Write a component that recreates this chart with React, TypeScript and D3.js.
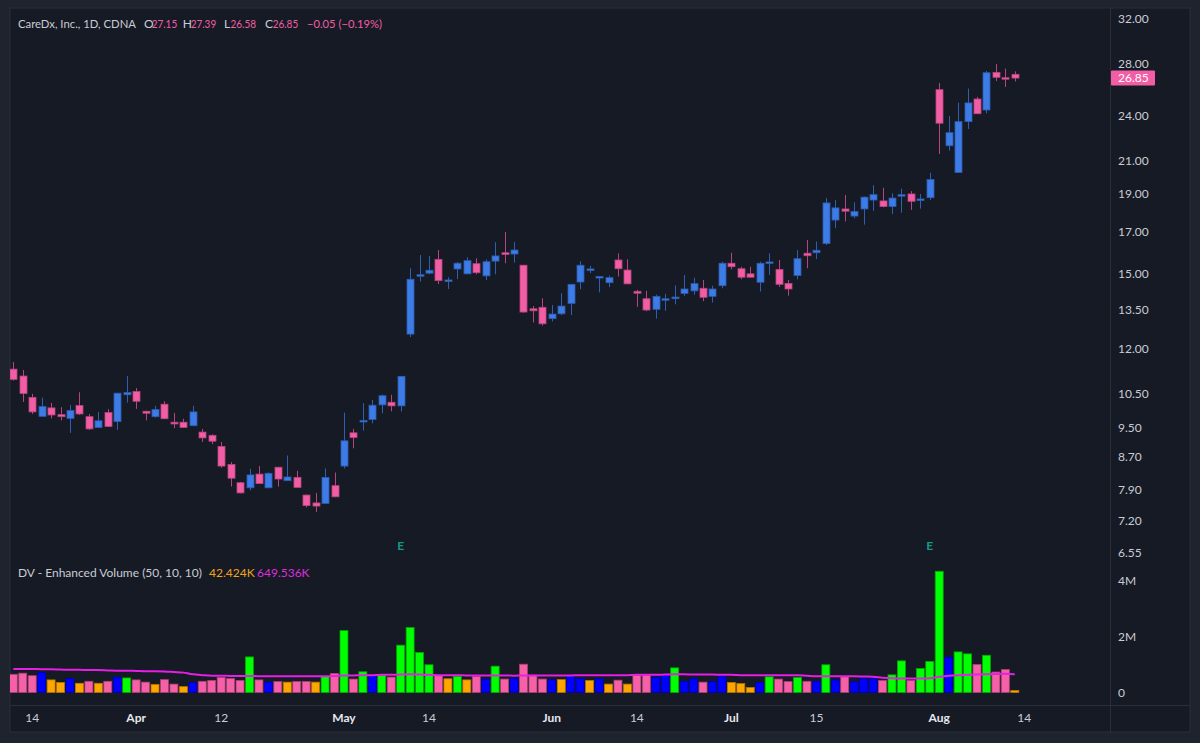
import React from 'react';
import * as d3 from 'd3';

// ---- data ----
const opens = [11.31,11.08,10.40,9.83,10.08,9.88,9.77,10.15,9.82,9.51,9.94,9.68,10.48,10.58,9.98,9.82,10.19,9.66,9.66,9.56,9.38,9.29,8.99,8.52,8.07,7.95,8.28,7.95,8.45,8.12,8.20,7.78,7.60,7.59,8.00,8.48,9.36,9.68,9.74,10.17,10.25,10.14,12.55,14.92,15.04,15.67,14.67,15.23,15.01,15.47,14.92,15.59,15.98,15.92,15.40,13.53,13.59,13.14,13.33,13.75,14.65,15.17,14.84,14.62,15.64,15.18,14.25,13.94,13.51,13.89,13.94,14.16,14.27,14.38,14.04,14.49,15.49,15.24,15.01,14.64,15.49,15.21,14.59,14.94,15.96,15.98,16.42,17.61,18.20,17.82,18.20,18.69,18.64,18.33,18.91,19.03,18.67,18.82,25.94,21.96,20.28,23.59,25.23,24.42,27.31,26.88,27.15];
const highs = [11.55,11.28,10.51,10.39,10.23,10.10,10.17,10.56,9.90,9.96,10.04,10.54,11.08,10.69,9.99,10.14,10.28,9.93,9.76,10.14,9.47,9.32,9.11,8.58,8.09,8.41,8.48,8.32,8.46,8.75,8.36,7.79,7.83,8.42,8.32,9.94,9.47,10.22,10.32,10.49,10.48,11.08,15.26,15.87,15.83,16.11,14.86,15.55,15.77,15.72,15.67,16.49,17.00,16.49,15.41,13.64,13.96,13.68,14.17,14.56,15.58,15.37,14.90,14.93,15.95,15.67,14.31,14.27,14.11,14.14,14.50,14.96,14.84,14.74,14.49,15.56,15.98,15.33,15.33,15.56,15.95,15.64,14.74,16.11,16.60,16.52,18.80,18.69,18.97,18.56,18.88,19.53,19.38,19.07,19.33,19.19,19.03,20.27,26.46,23.99,24.96,26.02,25.39,27.42,27.99,27.61,27.39];
const lows = [10.93,10.26,9.90,9.82,9.77,9.71,9.36,9.87,9.44,9.50,9.53,9.44,10.24,10.05,9.71,9.79,9.75,9.49,9.50,9.55,9.11,9.05,8.44,7.98,7.82,7.89,8.04,7.94,7.98,8.11,7.95,7.50,7.40,7.58,7.73,8.42,8.94,9.42,9.63,9.92,9.98,9.97,12.44,14.67,14.99,14.56,14.35,14.78,15.00,14.99,14.74,14.99,15.49,15.52,13.37,12.99,12.87,13.03,13.28,13.28,14.34,15.04,14.21,14.43,14.89,14.56,13.61,13.43,13.14,13.45,13.71,14.06,14.11,13.84,13.78,14.38,15.21,14.77,14.85,14.24,14.96,14.44,14.07,14.77,15.26,15.69,16.35,17.19,17.54,17.70,17.37,18.10,18.29,17.93,18.00,18.15,18.22,18.69,21.43,21.64,20.27,23.08,24.14,24.18,26.62,26.15,26.58];
const closes = [10.97,10.52,9.96,10.12,9.87,9.82,10.00,9.90,9.47,9.70,9.54,10.53,10.55,10.28,9.92,10.03,9.76,9.61,9.51,9.96,9.22,9.13,8.48,8.18,7.83,8.26,8.05,8.30,8.16,8.21,7.96,7.54,7.53,8.20,7.74,9.14,9.23,9.71,10.16,10.45,10.14,11.07,14.77,14.97,15.17,14.71,14.74,15.49,15.61,15.06,15.56,15.83,15.90,16.11,13.40,13.45,12.94,13.32,13.64,14.55,15.40,15.23,14.89,14.84,15.24,14.57,14.17,13.48,14.04,13.94,14.01,14.35,14.58,14.00,14.35,15.49,15.33,14.86,14.86,15.49,15.55,14.55,14.35,15.70,15.84,16.10,18.53,18.26,18.08,18.06,18.85,18.99,18.33,18.80,18.99,18.62,18.75,19.86,23.48,22.83,23.59,24.94,24.15,27.28,26.91,26.80,26.85];
// volume in millions
const volumes = [0.65,0.69,0.60,0.71,0.45,0.36,0.50,0.33,0.40,0.33,0.40,0.55,0.52,0.45,0.37,0.29,0.46,0.30,0.21,0.35,0.40,0.43,0.54,0.50,0.43,1.27,0.45,0.37,0.39,0.37,0.39,0.39,0.37,0.57,0.68,2.21,0.48,0.74,0.60,0.62,0.55,1.69,2.32,1.43,0.99,0.60,0.49,0.58,0.45,0.57,0.48,0.94,0.48,0.51,1.01,0.62,0.48,0.46,0.46,0.60,0.50,0.43,0.49,0.30,0.44,0.30,0.62,0.62,0.55,0.62,0.88,0.40,0.49,0.37,0.39,0.57,0.36,0.32,0.18,0.36,0.56,0.48,0.39,0.54,0.40,0.40,0.99,0.45,0.56,0.38,0.49,0.49,0.43,0.63,1.13,0.43,0.86,1.11,4.33,1.26,1.45,1.38,1.00,1.33,0.73,0.82,0.07];
// enhanced-volume colour class per bar: P pink, B blue, O orange, G green
const volClass = [
  'P','P','P','B','O','O','B','O','P','O',
  'P','B','G','P','P','O','P','P','O','B',
  'P','P','P','P','P','G','P','B','P','O',
  'P','P','O','G','P','G','P','G','B','G',
  'P','G','G','G','G','P','O','G','O','P',
  'B','G','P','B','P','P','P','B','O','B',
  'B','O','B','O','P','O','P','P','B','B',
  'G','B','B','P','B','B','O','O','O','B',
  'G','P','P','G','P','B','G','B','P','B',
  'B','B','P','G','G','P','G','G','G','B',
  'G','G','P','G','P','P','O'];
// volume moving average (millions)
const volMA = [0.84,0.84,0.84,0.83,0.83,0.82,0.81,0.81,0.80,0.80,0.79,0.78,0.78,0.77,0.76,0.76,0.75,0.73,0.71,0.65,0.62,0.60,0.60,0.59,0.59,0.59,0.58,0.58,0.58,0.58,0.58,0.58,0.58,0.58,0.59,0.61,0.61,0.62,0.62,0.63,0.63,0.64,0.65,0.64,0.63,0.62,0.62,0.62,0.61,0.61,0.61,0.61,0.61,0.60,0.61,0.61,0.61,0.61,0.61,0.61,0.62,0.62,0.62,0.62,0.62,0.62,0.63,0.63,0.63,0.64,0.65,0.65,0.64,0.64,0.64,0.63,0.63,0.62,0.62,0.62,0.62,0.62,0.62,0.62,0.60,0.58,0.58,0.58,0.58,0.58,0.57,0.56,0.53,0.51,0.50,0.50,0.50,0.51,0.56,0.60,0.62,0.63,0.64,0.65,0.66,0.67,0.65];

const priceTicks = [32, 28, 24, 21, 19, 17, 15, 13.5, 12, 10.5, 9.5, 8.7, 7.9, 7.2, 6.55];
const volTicks = [0, 2, 4];
const timeTickIndex = [2, 13, 22, 35, 44, 57, 66, 76, 85, 98, 107];
const timeTickLabels = ['14', 'Apr', '12', 'May', '14', 'Jun', '14', 'Jul', '15', 'Aug', '14'];
const monthLabels = ['Apr', 'May', 'Jun', 'Jul', 'Aug'];
const earningsIndex = [41, 97];

const headerTitle = 'CareDx, Inc., 1D, CDNA';
const lastChange = '−0.05 (−0.19%)';
const volLegend = 'DV - Enhanced Volume (50, 10, 10)';
const volLegendA = '42.424K';
const volLegendB = '649.536K';

// ---- styles ----
const FONT = 'Lato, "Noto Sans", sans-serif';
const BG_OUT = '#1f232e';
const BG = '#161a25';
const LINE = '#2a2e39';
const UP = '#3d7be6';
const DOWN = '#f25ea5';
const UP_WICK = '#2f5fb4';
const DOWN_WICK = '#b9437f';
const TXT = '#c9ccd4';
const VOLC: Record<string, string> = { P: '#f560a8', B: '#0000ff', O: '#ffa500', G: '#00ff00' };
const VOLS: Record<string, string> = { P: '#a8416f', B: '#0000b0', O: '#b37400', G: '#00a800' };

export default function App() {
  const n = closes.length;
  const left = 10, right = 1110, top = 8, paneSplit = 558, axisTop = 705, bottom = 732, outerRight = 1190;

  const x = d3.scaleLinear().domain([0, n - 1]).range([13.3, 1014.8]);
  const y = d3.scaleLog().domain([6.55, 32]).range([553, 19]);
  const yv = d3.scaleLinear().domain([0, 4]).range([692.5, 580.5]);

  const bodyW = 7;
  const volW = 8;
  const fmt = d3.format('.2f');

  const maLine = d3.line<number>().x((_, i) => x(i)).y(d => yv(d)).curve(d3.curveMonotoneX)(volMA) || '';

  const last = n - 1;
  const lastColor = closes[last] >= opens[last] ? UP : DOWN;

  const ohlc = [
    { k: 'O', v: opens[last], lx: 144, vx: 151.7 },
    { k: 'H', v: highs[last], lx: 182.7, vx: 190.7 },
    { k: 'L', v: lows[last], lx: 224, vx: 230.5 },
    { k: 'C', v: closes[last], lx: 265, vx: 272.7 },
  ];

  return (
    <div style={{ position: 'fixed', left: 0, top: 0, width: 1200, height: 743, background: BG_OUT }}>
      <svg width={1200} height={743} style={{ display: 'block', fontFamily: FONT }}>
        <defs>
          <clipPath id="pricePane"><rect x={left} y={top} width={right - left} height={paneSplit - top} /></clipPath>
          <clipPath id="volPane"><rect x={left} y={paneSplit} width={right - left} height={axisTop - paneSplit} /></clipPath>
          <clipPath id="priceAxis"><rect x={right} y={top} width={outerRight - right} height={paneSplit - 1 - top} /></clipPath>
        </defs>
        <rect x={0} y={0} width={1200} height={743} fill={BG_OUT} />
        <rect x={left} y={top} width={outerRight - left} height={bottom - top} fill={BG} stroke={LINE} strokeWidth={1} />
        <line x1={right + 0.5} x2={right + 0.5} y1={top} y2={bottom} stroke={LINE} />
        <line x1={left} x2={outerRight} y1={axisTop + 0.5} y2={axisTop + 0.5} stroke={LINE} />

        {/* candles */}
        <g clipPath="url(#pricePane)">
          {closes.map((c, i) => {
            const o = opens[i];
            const up = c >= o;
            const cx = Math.round(x(i));
            const yTop = y(Math.max(o, c));
            const yBot = y(Math.min(o, c));
            const h = Math.max(1.5, yBot - yTop);
            return (
              <g key={i}>
                <line x1={cx + 0.5} x2={cx + 0.5} y1={y(highs[i])} y2={y(lows[i])} stroke={up ? UP_WICK : DOWN_WICK} strokeWidth={1} />
                <rect x={cx - bodyW / 2 + 0.5} y={yTop} width={bodyW} height={h} fill={up ? UP : DOWN}
                  stroke={up ? '#2d5cae' : '#b8447e'} strokeWidth={0.8} />
              </g>
            );
          })}
          {earningsIndex.map((ei, j) => (
            <text key={'e' + j} x={x(ei)} y={549.5} textAnchor="middle" fontSize={12} fontWeight={700} fill="#129a83">E</text>
          ))}
        </g>

        {/* volume */}
        <g clipPath="url(#volPane)">
          {volumes.map((v, i) => {
            const cls = volClass[i] || 'P';
            const cx = x(i);
            const y0 = yv(0);
            const y1 = yv(v);
            return (
              <rect key={i} x={cx - volW / 2} y={y1} width={volW} height={Math.max(1, y0 - y1)} fill={VOLC[cls]}
                stroke={VOLS[cls]} strokeWidth={0.8} />
            );
          })}
          <path d={maLine} fill="none" stroke="#e61ee6" strokeWidth={2} />
        </g>

        {/* header legend */}
        <g fontSize={12} fill={TXT}>
          <text x={18} y={28} textLength={118} lengthAdjust="spacingAndGlyphs">{headerTitle}</text>
          {ohlc.map((d, i) => (
            <g key={i}>
              <text x={d.lx} y={28}>{d.k}</text>
              <text x={d.vx} y={28} fill={DOWN} textLength={25.5} lengthAdjust="spacingAndGlyphs">{fmt(d.v)}</text>
            </g>
          ))}
          <text x={307} y={28} fill={DOWN} textLength={75} lengthAdjust="spacingAndGlyphs">{lastChange}</text>
        </g>

        {/* volume legend */}
        <text y={577} fontSize={12} fill={TXT}>
          <tspan x={18}>{volLegend}</tspan>
          <tspan x={209} fill="#f2a21b">{volLegendA}</tspan>
          <tspan x={257} fill="#dc2fdc">{volLegendB}</tspan>
        </text>

        {/* price axis */}
        <g clipPath="url(#priceAxis)">
          {priceTicks.map((t, i) => (
            <text key={i} x={1118} y={y(t) + 4} fontSize={12} fill={TXT}>{fmt(t)}</text>
          ))}
        </g>
        <rect x={1111} y={y(closes[last]) - 7.5} width={44} height={15} rx={1} fill={lastColor} />
        <text x={1118} y={y(closes[last]) + 4} fontSize={12} fill="#ffffff">{fmt(closes[last])}</text>

        {/* volume axis */}
        {volTicks.map((t, i) => (
          <text key={i} x={1118} y={yv(t) + 4} fontSize={12} fill={TXT}>{t === 0 ? '0' : t + 'M'}</text>
        ))}

        {/* time axis */}
        {timeTickIndex.map((ti, i) => {
          const lab = timeTickLabels[i];
          const isMonth = monthLabels.includes(lab);
          return (
            <text key={i} x={x(ti)} y={722} textAnchor="middle" fontSize={12}
              fontWeight={isMonth ? 700 : 400} fill={isMonth ? '#e6e8ee' : TXT}>{lab}</text>
          );
        })}
      </svg>
    </div>
  );
}
